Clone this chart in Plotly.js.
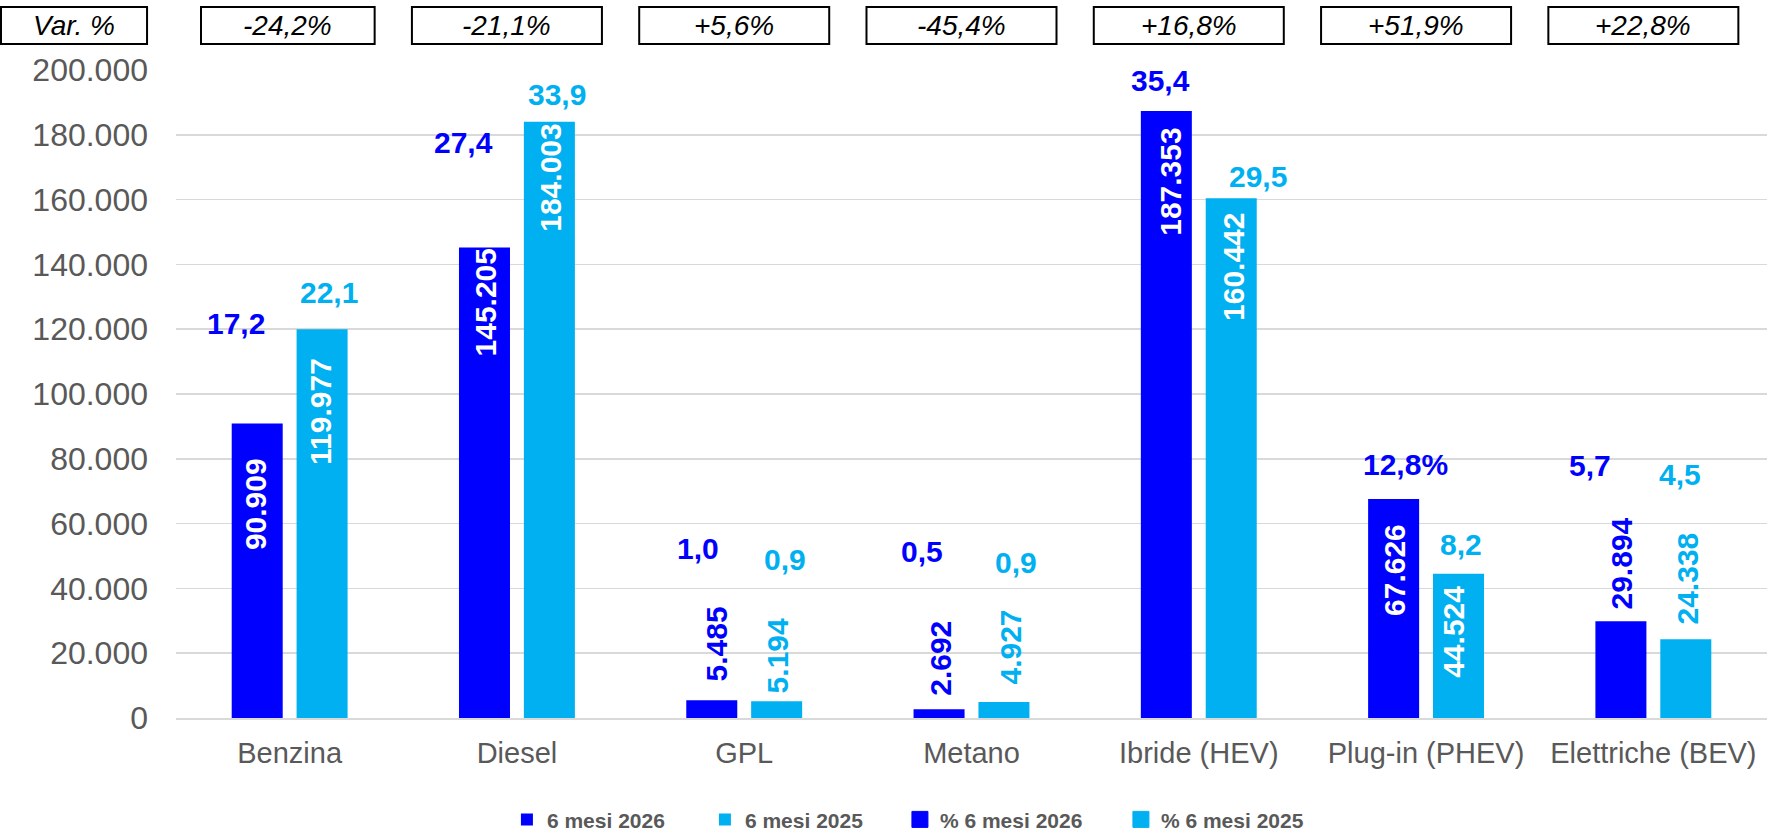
<!DOCTYPE html>
<html><head><meta charset="utf-8">
<script src="https://cdn.plot.ly/plotly-3.0.1.min.js"></script>
<style>html,body{margin:0;padding:0;background:#fff;} #chart{width:1776px;height:831px;}</style>
</head><body><div id="chart"></div>
<script>
// ---- data ----
const categories = ['Benzina','Diesel','GPL','Metano','Ibride (HEV)','Plug-in (PHEV)','Elettriche (BEV)'];
const values2026 = [90909,145205,5485,2692,187353,67626,29894];
const values2025 = [119977,184003,5194,4927,160442,44524,24338];
const pct2026 = ['17,2','27,4','1,0','0,5','35,4','12,8%','5,7'];
const pct2025 = ['22,1','33,9','0,9','0,9','29,5','8,2','4,5'];
const varPct = ['-24,2%','-21,1%','+5,6%','-45,4%','+16,8%','+51,9%','+22,8%'];
const varHeader = 'Var. %';
const seriesNames = ['6 mesi 2026','6 mesi 2025','% 6 mesi 2026','% 6 mesi 2025'];
const yTickVals = [0,20000,40000,60000,80000,100000,120000,140000,160000,180000,200000];
const yTickText = ['0','20.000','40.000','60.000','80.000','100.000','120.000','140.000','160.000','180.000','200.000'];

// ---- label placement / styles ----
const colors = ['#0000FF','#00B0F0'];
const grey = '#595959';
const FONT = '"Liberation Sans", Arial, sans-serif';
// value label drawn inside the bar (white) or above it (bar colour)
const valueInside2026 = [true,true,false,false,true,true,false];
const valueInside2025 = [true,true,false,false,true,true,false];
// pixel offsets [dx from category centre, dy up from bar top] of the value labels
const valShift2026 = [[-34,-81],[-31,-55],[-28,56],[-31,51],[-28,-71],[-31,-71],[-32,58]];
const valShift2025 = [[31,-82],[34,-56],[33,45],[39,55],[34,-69],[28,-58],[34,61]];
// pixel offsets [dx, dy up] of % labels from the top-centre of each category's value
const pctShift2026 = [[-54,100],[-53,105],[-46,152],[-50,158],[-38,30],[-21,34],[-63,156]];
const pctShift2025 = [[39,37],[40,27],[41,142],[44,140],[59,22],[35,29],[27,165]];
const legendWidths = [153,150,176,170];

const fmt = v => String(v).replace(/\B(?=(\d{3})+(?!\d))/g, '.');

function barTrace(name, vals, color, lw) {
  return {
    type: 'bar', name: name, x: categories, y: vals,
    marker: {color: color}, legendwidth: lw,
    hoverinfo: 'skip'
  };
}
function legendTrace(name, color, lw) {
  return {
    type: 'scatter', mode: 'markers', name: name, x: [null], y: [null],
    marker: {symbol: 'square', size: 16, color: color, line: {color: color, width: 1}},
    legendwidth: lw, hoverinfo: 'skip'
  };
}

const data = [
  barTrace(seriesNames[0], values2026, colors[0], legendWidths[0]),
  barTrace(seriesNames[1], values2025, colors[1], legendWidths[1]),
  legendTrace(seriesNames[2], colors[0], legendWidths[2]),
  legendTrace(seriesNames[3], colors[1], legendWidths[3])
];

const annotations = [];
const shapes = [];
function pctAnn(i, vals, txt, shift, color) {
  annotations.push({
    x: categories[i], y: vals[i], xref: 'x', yref: 'y',
    text: txt[i], showarrow: false, xanchor: 'center', yanchor: 'middle',
    xshift: shift[i][0], yshift: shift[i][1],
    font: {family: FONT, size: 30, color: color, weight: 'bold'}
  });
}
function valAnn(i, vals, inside, shift, color) {
  annotations.push({
    x: categories[i], y: vals[i], xref: 'x', yref: 'y',
    text: fmt(vals[i]), textangle: -90, showarrow: false,
    xanchor: 'center', yanchor: 'middle',
    xshift: shift[i][0], yshift: shift[i][1],
    font: {family: FONT, size: 30, color: inside[i] ? '#FFFFFF' : color, weight: 'bold'}
  });
}
for (let i = 0; i < categories.length; i++) {
  valAnn(i, values2026, valueInside2026, valShift2026, colors[0]);
  valAnn(i, values2025, valueInside2025, valShift2025, colors[1]);
  pctAnn(i, values2026, pct2026, pctShift2026, colors[0]);
  pctAnn(i, values2025, pct2025, pctShift2025, colors[1]);
  const x0 = i === 0 ? i - 0.39 : i - 0.462;
  const x1 = i + 0.374;
  shapes.push({type: 'rect', xref: 'x', yref: 'paper', x0: x0, x1: x1, y0: 1.0401, y1: 1.0972,
    line: {color: '#000000', width: 2}, fillcolor: '#FFFFFF'});
  annotations.push({x: (x0 + x1) / 2, y: 1.0687, xref: 'x', yref: 'paper', text: varPct[i],
    showarrow: false, xanchor: 'center', yanchor: 'middle',
    font: {family: FONT, size: 28, color: '#000000', style: 'italic'}});
}
shapes.push({type: 'rect', xref: 'paper', yref: 'paper', x0: -0.1100, x1: -0.0182, y0: 1.0401, y1: 1.0972,
  line: {color: '#000000', width: 2}, fillcolor: '#FFFFFF'});
annotations.push({x: -0.0641, y: 1.0687, xref: 'paper', yref: 'paper', text: varHeader,
  showarrow: false, xanchor: 'center', yanchor: 'middle',
  font: {family: FONT, size: 28, color: '#000000', style: 'italic'}});

const layout = {
  width: 1776, height: 831,
  margin: {l: 176, r: 9, t: 70, b: 113, pad: 0, autoexpand: false},
  paper_bgcolor: '#FFFFFF', plot_bgcolor: '#FFFFFF',
  barmode: 'group', bargap: 0.429, bargroupgap: 0.214,
  separators: ',.',
  showlegend: true,
  legend: {orientation: 'h', x: 0.208, xanchor: 'left', y: -0.157, yanchor: 'middle',
    font: {family: FONT, size: 21, color: grey, weight: 'bold'}, bgcolor: 'rgba(0,0,0,0)',
    itemclick: false, itemdoubleclick: false},
  xaxis: {type: 'category', showgrid: false, showline: true, linecolor: '#D9D9D9', linewidth: 2,
    ticks: '', ticklabelstandoff: 8, tickfont: {family: FONT, size: 29, color: grey},
    fixedrange: true, automargin: false},
  yaxis: {range: [0, 200000], tickvals: yTickVals, ticktext: yTickText,
    showgrid: true, gridcolor: '#D9D9D9', gridwidth: 1.5, zeroline: false, showline: false,
    ticks: '', ticklabelstandoff: 27, tickfont: {family: FONT, size: 32, color: grey},
    fixedrange: true, automargin: false},
  shapes: shapes,
  annotations: annotations,
  font: {family: FONT}
};

Plotly.newPlot('chart', data, layout, {displayModeBar: false, staticPlot: true});
</script>
</body></html>
